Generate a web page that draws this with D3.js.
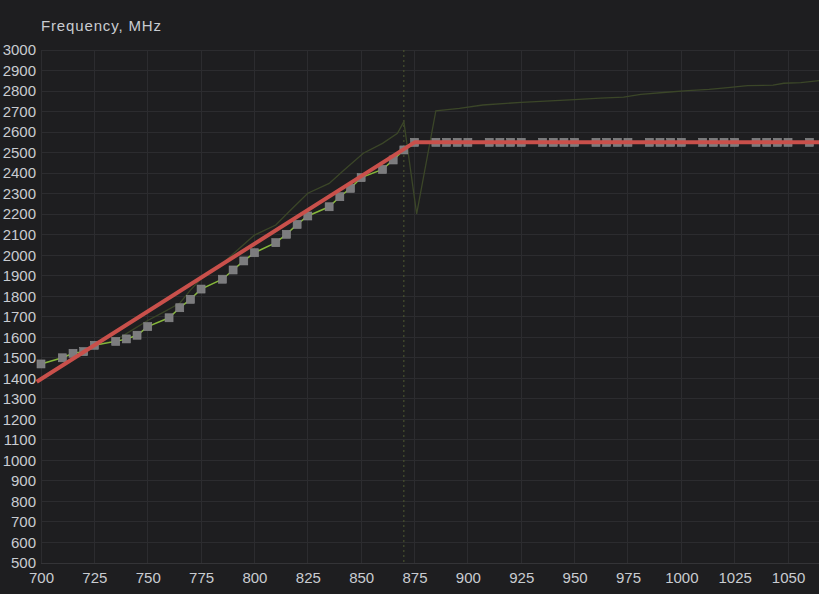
<!DOCTYPE html>
<html>
<head>
<meta charset="utf-8">
<script src="https://cdn.jsdelivr.net/npm/d3@7"></script>
<style>
  html, body { margin: 0; padding: 0; background: #1e1e20; }
  svg { display: block; }
  text { font-family: "Liberation Sans", Arial, sans-serif; }
</style>
</head>
<body>
<script>
// ---- data ----
const xTicks = [700,725,750,775,800,825,850,875,900,925,950,975,1000,1025,1050];
const yTicks = [500,600,700,800,900,1000,1100,1200,1300,1400,1500,1600,1700,1800,1900,2000,2100,2200,2300,2400,2500,2600,2700,2800,2900,3000];

// measured points (gray squares, green line)
const pointFreq = [700,710,715,720,725,735,740,745,750,760,765,770,775,785,790,795,800,810,815,820,825,835,840,845,850,860,865,870,875,
  885,890,895,900,910,915,920,925,935,940,945,950,960,965,970,975,985,990,995,1000,1010,1015,1020,1025,1035,1040,1045,1050,1060];
const pointMHz = [1470,1500,1522,1530,1561,1580,1592,1610,1652,1695,1744,1785,1835,1883,1928,1972,2012,2061,2102,2150,2191,2236,2285,2326,2378,2418,2464,2513,2550,
  2550,2550,2550,2550,2550,2550,2550,2550,2550,2550,2550,2550,2550,2550,2550,2550,2550,2550,2550,2550,2550,2550,2550,2550,2550,2550,2550,2550,2550];

// curve (red line)
const curveFreq = [698, 875, 1066];
const curveMHz = [1383, 2550, 2550];

// faint dark line
const darkFreq = [725,735,740,750,757,765,770,775,785,793,800,810,817,825,835,842,851,860,867,870,876,885,896,907,925,950,962,973,981,993,1003,1013,1023,1031,1043,1048,1056,1066];
const darkMHz = [1561,1585,1618,1682,1720,1766,1830,1885,1960,2034,2098,2147,2220,2302,2350,2415,2497,2545,2594,2651,2201,2704,2716,2732,2745,2758,2765,2770,2784,2794,2802,2808,2818,2826,2829,2838,2841,2852];

const markerFreq = 870;
const title = "Frequency, MHz";

// ---- layout ----
const W = 819, H = 594;
const mLeft = 41, mRight = 819, mTop = 50, mBottom = 563;

const svg = d3.select("body").append("svg").attr("width", W).attr("height", H);
svg.append("rect").attr("width", W).attr("height", H).attr("fill", "#1e1e20");

const x = d3.scaleLinear().domain([700, 1064.5]).range([mLeft, mRight]);
const y = d3.scaleLinear().domain([500, 3000]).range([mBottom, mTop]);

svg.append("defs").append("clipPath").attr("id", "clip")
  .append("rect").attr("x", 35).attr("y", mTop - 5).attr("width", mRight - 35).attr("height", mBottom - mTop + 5);

// grid
const grid = svg.append("g");
grid.selectAll("line.v").data(xTicks).join("line")
  .attr("x1", d => x(d)).attr("x2", d => x(d))
  .attr("y1", mTop).attr("y2", mBottom)
  .attr("stroke", "#2c2c2f").attr("stroke-width", 1).attr("shape-rendering", "crispEdges");
grid.selectAll("line.h").data(yTicks).join("line")
  .attr("x1", mLeft).attr("x2", mRight)
  .attr("y1", d => y(d)).attr("y2", d => y(d))
  .attr("stroke", d => d === 500 ? "#343437" : "#2c2c2f").attr("stroke-width", 1).attr("shape-rendering", "crispEdges");

// axes labels via d3 axes
const fmt = d3.format("d");
const xAxis = d3.axisBottom(x).tickValues(xTicks).tickFormat(fmt).tickSize(0).tickPadding(9);
const gx = svg.append("g").attr("transform", `translate(0,${mBottom})`).call(xAxis);
gx.select(".domain").remove();
gx.selectAll("text").attr("fill", "#c9ccd1").style("font-size", "15px").style("font-family", "'Liberation Sans', Arial, sans-serif");

const yAxis = d3.axisLeft(y).tickValues(yTicks).tickFormat(fmt).tickSize(0).tickPadding(5);
const gy = svg.append("g").attr("transform", `translate(${mLeft},0)`).call(yAxis);
gy.select(".domain").remove();
gy.selectAll("text").attr("fill", "#c9ccd1").style("font-size", "15px").style("font-family", "'Liberation Sans', Arial, sans-serif");

// title
svg.append("text").attr("x", 41).attr("y", 31).attr("fill", "#c9ccd1")
  .style("font-size", "15px").style("letter-spacing", "0.85px").text(title);

const plot = svg.append("g").attr("clip-path", "url(#clip)");

// dotted marker
plot.append("line").attr("x1", x(markerFreq)).attr("x2", x(markerFreq))
  .attr("y1", mTop).attr("y2", mBottom)
  .attr("stroke", "#4f5a30").attr("stroke-width", 1).attr("stroke-dasharray", "2,3");

// dark line
const darkData = darkFreq.map((f, i) => [f, darkMHz[i]]);
plot.append("path").datum(darkData)
  .attr("d", d3.line().x(d => x(d[0])).y(d => y(d[1])))
  .attr("fill", "none").attr("stroke", "#3b4628").attr("stroke-width", 1.3);

// green line
const pts = pointFreq.map((f, i) => [f, pointMHz[i]]);
plot.append("path").datum(pts)
  .attr("d", d3.line().x(d => x(d[0])).y(d => y(d[1])))
  .attr("fill", "none").attr("stroke", "#86b83a").attr("stroke-width", 1.5);

// squares
const s = 8;
plot.selectAll("rect.pt").data(pts).join("rect")
  .attr("x", d => x(d[0]) - s / 2).attr("y", d => y(d[1]) - s / 2)
  .attr("width", s).attr("height", s)
  .attr("fill", "#7c7c7e").attr("stroke", "#8a8a8c").attr("stroke-width", 0.6);

// red curve
const curve = curveFreq.map((f, i) => [f, curveMHz[i]]);
plot.append("path").datum(curve)
  .attr("d", d3.line().x(d => x(d[0])).y(d => y(d[1])))
  .attr("fill", "none").attr("stroke", "#c9504b").attr("stroke-width", 4)
  .attr("stroke-linejoin", "round");
</script>
</body>
</html>
